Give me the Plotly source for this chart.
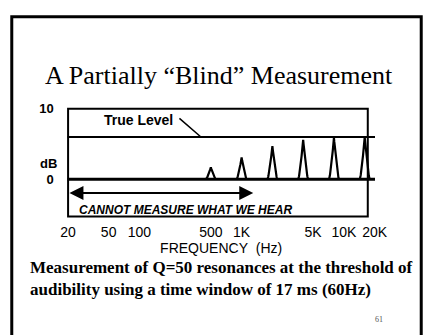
import numpy as np
import plotly.graph_objects as go

# --- data -------------------------------------------------------------
tick_freqs = [20, 50, 100, 500, 1000, 5000, 10000, 20000]
tick_labels = ["20", "50", "100", "500", "1K", "5K", "10K", "20K"]

resonance_freqs = [500, 1000, 2000, 4000, 8000, 16000]   # Hz
measured_levels = [1.7, 3.1, 4.7, 5.6, 5.9, 6.0]          # dB
true_level = 6.0                                          # dB
blind_band = [20, 1300]                                   # Hz, span of the arrow

W, H = 439, 335
X_RANGE = [1.295, 4.305]        # log10(Hz)
Y_RANGE = [-5.28, 10]           # dB
PLOT_L, PLOT_R, FRAME_R = 63.2, 385.6, 378


def px(x):
    return x / W


def py(y):
    return 1 - y / H


fig = go.Figure()

# baseline (0 dB) and true level
f_lo, f_hi = 10 ** X_RANGE[0], 10 ** X_RANGE[1]
fig.add_trace(go.Scatter(x=[f_lo, f_hi], y=[0, 0], mode="lines",
                         line=dict(color="black", width=3), hoverinfo="skip"))
fig.add_trace(go.Scatter(x=[f_lo, f_hi], y=[true_level, true_level], mode="lines",
                         line=dict(color="black", width=2), hoverinfo="skip"))

# narrow resonance peaks as measured through the short window
half_width = 0.048   # decades
flare = 1.35
u = np.linspace(-1, 1, 81)
for fc, lvl in zip(resonance_freqs, measured_levels):
    xs = 10 ** (np.log10(fc) + u * half_width)
    ys = lvl * (1 - np.abs(u)) ** flare
    fig.add_trace(go.Scatter(x=xs, y=ys, mode="lines",
                             line=dict(color="black", width=2.2), hoverinfo="skip"))

sans = "Liberation Sans, Arial, sans-serif"
serif = "Liberation Serif, Times New Roman, serif"

fig.update_layout(
    width=W, height=H,
    margin=dict(l=0, r=0, t=0, b=0),
    paper_bgcolor="white", plot_bgcolor="white",
    showlegend=False,
    xaxis=dict(
        type="log", range=X_RANGE, domain=[px(PLOT_L), px(PLOT_R)],
        tickvals=tick_freqs, ticktext=tick_labels,
        ticks="outside", ticklen=3, tickcolor="rgba(0,0,0,0)",
        tickfont=dict(family=sans, size=14, color="black"),
        showgrid=False, zeroline=False, showline=False,
        title=dict(text="FREQUENCY\u00a0 (Hz)", font=dict(family=sans, size=14, color="black"),
                   standoff=2),
    ),
    yaxis=dict(
        range=Y_RANGE, domain=[py(214), py(104)],
        tickvals=[0, 10], ticktext=["<b>0</b>", "<b>10</b>"],
        ticks="outside", ticklen=10, tickcolor="rgba(0,0,0,0)",
        tickfont=dict(family=sans, size=13, color="black"),
        showgrid=False, zeroline=False, showline=False,
    ),
)

# plot frame
fig.add_shape(type="rect", xref="x domain", yref="y domain",
              x0=(64 - PLOT_L) / (PLOT_R - PLOT_L), x1=(FRAME_R - PLOT_L) / (PLOT_R - PLOT_L),
              y0=0, y1=1, line=dict(color="black", width=2), layer="above")

# slide border (left, top, right)
fig.add_shape(type="path", xref="paper", yref="paper",
              path=f"M {px(5)},{py(340)} L {px(5)},{py(10)} L {px(434)},{py(10)} L {px(434)},{py(340)}",
              line=dict(color="black", width=3))

# title
fig.add_annotation(text="A Partially \u201cBlind\u201d Measurement", xref="paper", yref="paper",
                   x=px(222), y=py(70), yanchor="middle", showarrow=False,
                   font=dict(family=serif, size=26, color="black"))

# dB label
fig.add_annotation(text="<b>dB</b>", xref="paper", yref="paper", x=px(32), y=py(160),
                   yanchor="middle", showarrow=False,
                   font=dict(family=sans, size=13, color="black"))

# True Level label with pointer
fig.add_annotation(text="<b>True Level</b>", xref="x", yref="y",
                   x=np.log10(98), y=8.4, yanchor="middle", showarrow=False,
                   font=dict(family=sans, size=14, color="black"))
fig.add_annotation(text="", xref="x", yref="y", x=np.log10(400), y=true_level,
                   ax=-23, ay=-20, showarrow=True, arrowhead=0, arrowwidth=1.5,
                   arrowcolor="black")

# double-headed arrow across the band that cannot be measured
arrow_y = -1.95
fig.add_annotation(text="", xref="x", yref="y", axref="x", ayref="y",
                   x=np.log10(blind_band[1]), y=arrow_y,
                   ax=np.log10(blind_band[0]), ay=arrow_y,
                   showarrow=True, arrowhead=2, arrowside="end+start",
                   arrowsize=1.4, arrowwidth=2, arrowcolor="black")
fig.add_annotation(text="<b><i>CANNOT MEASURE WHAT WE HEAR</i></b>", xref="paper", yref="paper",
                   x=px(187), y=py(207), yanchor="middle", showarrow=False,
                   font=dict(family=sans, size=12, color="black"))

# caption
fig.add_annotation(text="<b>Measurement of Q=50 resonances at the threshold of<br>"
                        "audibility using a time window of 17 ms (60Hz)</b>",
                   xref="paper", yref="paper", x=px(22), y=py(277), xanchor="left",
                   yanchor="middle", align="left", showarrow=False,
                   font=dict(family=serif, size=17, color="black"))

# slide number
fig.add_annotation(text="61", xref="paper", yref="paper", x=px(396), y=py(319),
                   yanchor="middle", showarrow=False,
                   font=dict(family=serif, size=8, color="#555555"))

fig.write_html("out.html")
